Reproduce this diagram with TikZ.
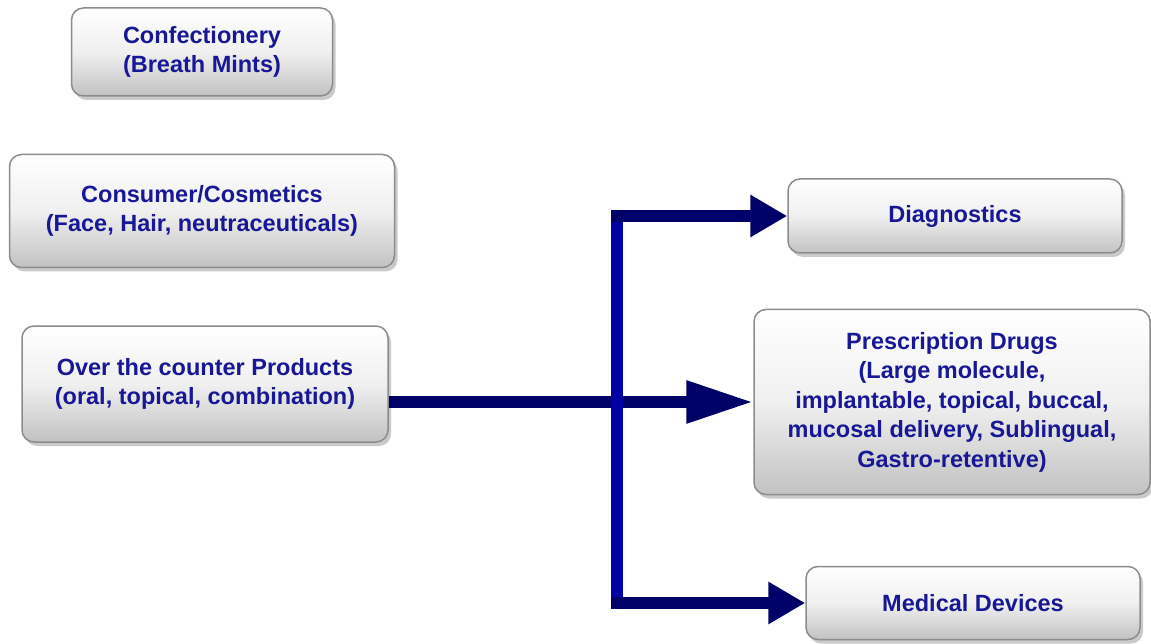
\documentclass[tikz,border=0pt]{standalone}
\usepackage{fontspec}
\setmainfont{Liberation Sans}
\usetikzlibrary{arrows.meta,shadows}
\definecolor{txtblue}{RGB}{24,24,150}
\definecolor{navy}{RGB}{0,0,105}
\definecolor{vblue}{RGB}{0,0,165}
\tikzset{
  box/.style={draw=black!45, line width=1.5pt, rounded corners=12pt,
    top color=white, bottom color=black!24, middle color=black!6,
    drop shadow={shadow xshift=3pt, shadow yshift=-4pt, opacity=0.35, fill=black!60},
    align=center, text=txtblue,
    font=\bfseries\fontsize{23.5}{29.5}\selectfont, inner sep=0pt},
  conn/.style={draw=navy, line width=12pt},
  shorttip/.style={-{Triangle[length=37pt,width=40pt]}},
  longtip/.style={-{Triangle[length=67pt,width=40pt]}}
}
\begin{document}
\begin{tikzpicture}[x=1pt,y=-1pt]
\useasboundingbox (0,0) rectangle (1151,644);
\node[box, minimum width=261pt, minimum height=88pt] (conf) at (202,52) {Confectionery\\(Breath Mints)};
\node[box, minimum width=385pt, minimum height=113pt] (cons) at (202,211) {Consumer/Cosmetics\\(Face, Hair, neutraceuticals)};
\node[box, minimum width=366pt, minimum height=116pt] (otc) at (205,384) {Over the counter Products\\(oral, topical, combination)};
\node[box, minimum width=334pt, minimum height=74pt] (diag) at (955,216) {Diagnostics};
\node[box, minimum width=396pt, minimum height=185pt] (pd) at (952,402) {Prescription Drugs\\(Large molecule,\\implantable, topical, buccal,\\mucosal delivery, Sublingual,\\Gastro-retentive)};
\node[box, minimum width=334pt, minimum height=73pt] (md) at (973,603) {Medical Devices};
\coordinate (vx) at (617,0);
\coordinate (vl) at (611,0);
\draw[conn, longtip] (pd.west -| otc.east) -- (pd.west);
\draw[draw=vblue, line width=12pt] (diag.west -| vx) -- (md.west -| vx);
\draw[conn, shorttip] (diag.west -| vl) -- (diag.west);
\draw[conn, shorttip] (md.west -| vl) -- (md.west);
\end{tikzpicture}
\end{document}
